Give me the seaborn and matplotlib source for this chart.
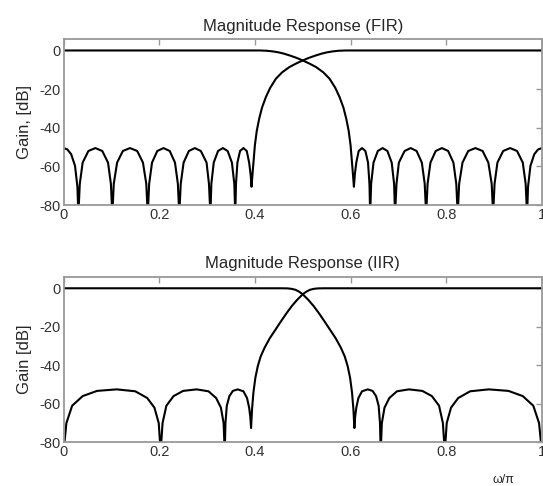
import matplotlib
matplotlib.use("Agg")
import matplotlib.pyplot as plt
import seaborn as sns

# ---------------- data ----------------
# FIR high-pass (stopband 0..0.4, passband 0.6..1)
fir_hp_x = [0.000, 0.008, 0.016, 0.024, 0.029, 0.031,
            0.034, 0.040, 0.052, 0.0665, 0.081, 0.093, 0.099, 0.102,
            0.105, 0.112, 0.124, 0.139, 0.154, 0.166, 0.173, 0.176,
            0.179, 0.185, 0.196, 0.209, 0.222, 0.233, 0.239, 0.242,
            0.245, 0.251, 0.262, 0.2745, 0.287, 0.299, 0.304, 0.307,
            0.309, 0.314, 0.323, 0.333, 0.343, 0.352, 0.357, 0.359,
            0.3605, 0.3635, 0.369, 0.376, 0.383, 0.388, 0.391, 0.393,
            0.396, 0.400, 0.404, 0.409, 0.415, 0.423, 0.432, 0.444, 0.457,
            0.472, 0.485, 0.497, 0.512, 0.527, 0.540, 0.550, 0.562, 0.575,
            0.590, 1.000]
fir_hp_y = [-50.5, -51.2, -53.7, -59.7, -70.5, -85,
            -69, -58, -52, -50.5, -52, -58, -69, -85,
            -69, -58, -52, -50.5, -52, -58, -69, -85,
            -69, -58, -52, -50.5, -52, -58, -69, -85,
            -69, -58, -52, -50.5, -52, -58, -69, -85,
            -69, -58, -52, -50.5, -52, -58, -69, -85,
            -69, -58, -52, -50.5, -52, -58, -64.0, -70.5,
            -61.0, -49.0, -41.5, -35.3, -29.5, -24.1, -19.3, -14.6, -11.3,
            -8.6, -6.9, -5.5, -3.9, -2.6, -1.6, -1.0, -0.5, -0.15,
            0.0, 0.0]

# FIR low-pass (passband 0..0.4, stopband 0.6..1)
fir_lp_x = [0.000, 0.410, 0.425, 0.438, 0.450, 0.460, 0.473, 0.488,
            0.503, 0.515, 0.528, 0.543, 0.556, 0.568, 0.577, 0.585,
            0.591, 0.596, 0.600, 0.604, 0.607,
            0.609, 0.612, 0.617, 0.624, 0.631, 0.6365, 0.6395, 0.641,
            0.643, 0.648, 0.657, 0.667, 0.677, 0.686, 0.691, 0.693,
            0.696, 0.701, 0.713, 0.7255, 0.738, 0.749, 0.755, 0.758,
            0.761, 0.767, 0.778, 0.791, 0.804, 0.815, 0.821, 0.824,
            0.827, 0.834, 0.846, 0.861, 0.876, 0.888, 0.895, 0.898,
            0.901, 0.907, 0.919, 0.9335, 0.948, 0.960, 0.966, 0.969,
            0.971, 0.976, 0.984, 0.992, 1.000]
fir_lp_y = [0.0, 0.0, -0.15, -0.5, -1.0, -1.6, -2.6, -3.9,
            -5.5, -6.9, -8.6, -11.3, -14.6, -19.3, -24.1, -29.5,
            -35.3, -41.5, -49.0, -61.0, -70.5,
            -64.0, -58, -52, -50.5, -52, -58, -69, -85,
            -69, -58, -52, -50.5, -52, -58, -69, -85,
            -69, -58, -52, -50.5, -52, -58, -69, -85,
            -69, -58, -52, -50.5, -52, -58, -69, -85,
            -69, -58, -52, -50.5, -52, -58, -69, -85,
            -69, -58, -52, -50.5, -52, -58, -69, -85,
            -70.5, -59.7, -53.7, -51.2, -50.5]

# IIR high-pass
iir_hp_x = [0.000, 0.006, 0.018, 0.040, 0.070, 0.111, 0.150, 0.175, 0.190, 0.199, 0.203,
            0.207, 0.215, 0.230, 0.250, 0.278, 0.303, 0.319, 0.329, 0.3346, 0.337,
            0.3385, 0.3413, 0.3467, 0.354, 0.364, 0.376, 0.3836, 0.388, 0.3905, 0.392,
            0.394, 0.397, 0.401, 0.406, 0.412, 0.420, 0.431, 0.443, 0.455, 0.466,
            0.477, 0.488, 0.500, 0.508, 0.515, 0.523, 0.532, 0.545, 1.000]
iir_hp_y = [-85, -70, -61, -56, -53.3, -52.5, -53.5, -57, -62, -70, -85,
            -70, -61, -56, -53.3, -52.5, -53.5, -57, -62, -70, -85,
            -70, -61, -56, -53.3, -52.5, -53.5, -57, -62, -67, -72.6,
            -63, -54, -46.5, -40.5, -35.5, -31, -26, -21.5, -17, -13,
            -9.3, -6.1, -3.1, -1.7, -0.8, -0.3, -0.05, 0.0, 0.0]

# IIR low-pass
iir_lp_x = [0.000, 0.455, 0.468, 0.477, 0.485, 0.492, 0.500, 0.512, 0.523,
            0.534, 0.545, 0.557, 0.569, 0.580, 0.588, 0.594, 0.599, 0.603, 0.606, 0.608,
            0.6095, 0.612, 0.6164, 0.624, 0.636, 0.646, 0.6533, 0.6587, 0.6615, 0.663,
            0.6654, 0.671, 0.681, 0.697, 0.722, 0.750, 0.770, 0.785, 0.793, 0.797,
            0.801, 0.810, 0.825, 0.850, 0.889, 0.930, 0.960, 0.982, 0.994, 1.000]
iir_lp_y = [0.0, 0.0, -0.05, -0.3, -0.8, -1.7, -3.1, -6.1, -9.3,
            -13, -17, -21.5, -26, -31, -35.5, -40.5, -46.5, -54, -63, -72.6,
            -67, -62, -57, -53.5, -52.5, -53.3, -56, -61, -70, -85,
            -70, -62, -57, -53.5, -52.5, -53.3, -56, -61, -70, -85,
            -70, -62, -57, -53.5, -52.5, -53.3, -56, -61, -70, -85]

x_ticks = [0, 0.2, 0.4, 0.6, 0.8, 1.0]
x_tick_labels = ["0", "0.2", "0.4", "0.6", "0.8", "1"]
y_ticks = [-80, -60, -40, -20, 0]
titles = ["Magnitude Response (FIR)", "Magnitude Response (IIR)"]
ylabels = ["Gain, [dB]", "Gain [dB]"]
xlabel_text = "\u03c9/\u03c0"

# ---------------- plotting ----------------
sns.set_style("white")
plt.rcParams["font.family"] = ["Liberation Sans", "DejaVu Sans"]
plt.rcParams["axes.unicode_minus"] = False

fig = plt.figure(figsize=(5.43, 4.86), dpi=100)
ax1 = fig.add_axes([0.117, 0.578, 0.881, 0.342])
ax2 = fig.add_axes([0.117, 0.0899, 0.881, 0.3407])

curves = [
    (ax1, [(fir_hp_x, fir_hp_y), (fir_lp_x, fir_lp_y)]),
    (ax2, [(iir_hp_x, iir_hp_y), (iir_lp_x, iir_lp_y)]),
]

frame_col = "#999999"
for i, (ax, pairs) in enumerate(curves):
    for xs, ys in pairs:
        sns.lineplot(x=xs, y=ys, ax=ax, color="black", linewidth=1.5,
                     estimator=None, sort=False)
    ax.set_xlim(0, 1)
    ax.set_ylim(-80, 6)
    ax.set_xticks(x_ticks)
    ax.set_xticklabels(x_tick_labels)
    ax.set_yticks(y_ticks)
    ax.tick_params(direction="in", length=4, width=1, top=True, right=True,
                   labelsize=10.5, pad=2, color=frame_col, labelcolor="#333333")
    for sp in ax.spines.values():
        sp.set_color(frame_col)
        sp.set_linewidth(1.3)
    ax.set_title(titles[i], fontsize=12, pad=6)
    ax.set_ylabel(ylabels[i], fontsize=12)
    ax.yaxis.set_label_coords(-0.066, 0.5)
    ax.set_xlabel("")

fig.text(503 / 543, 1 - 480 / 486, xlabel_text, fontsize=9,
         ha="center", va="center")

fig.savefig("out.png", dpi=100)
